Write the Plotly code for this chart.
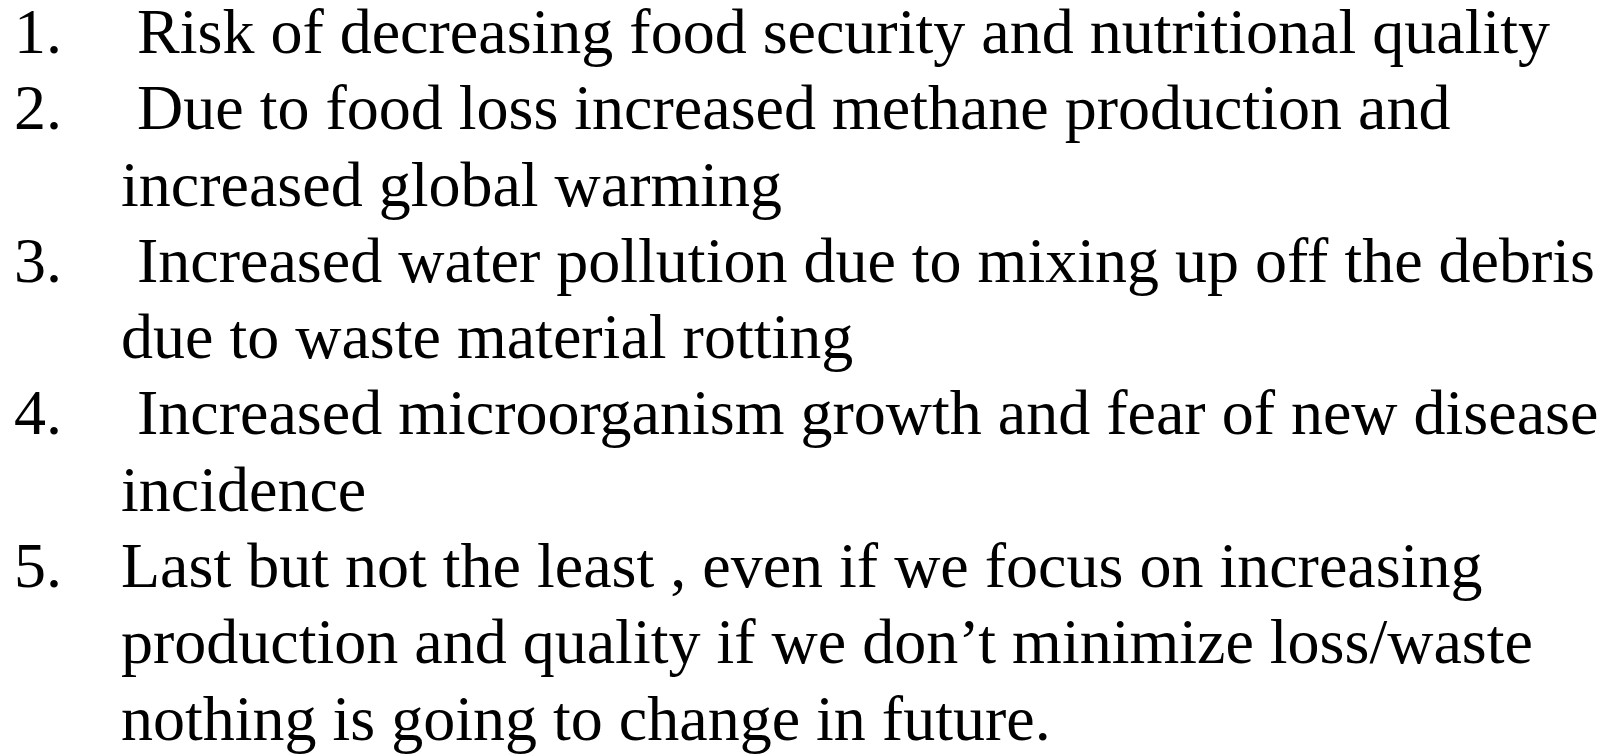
import plotly.graph_objects as go

# ---- content (text lines of the slide) ----
item_numbers = ["1.", "2.", "3.", "4.", "5."]
item_lines = [
    [" Risk of decreasing food security and nutritional quality"],
    [" Due to food loss increased methane production and",
     "increased global warming"],
    [" Increased water pollution due to mixing up off the debris",
     "due to waste material rotting"],
    [" Increased microorganism growth and fear of new disease",
     "incidence"],
    ["Last but not the least , even if we focus on increasing",
     "production and quality if we don\u2019t minimize loss/waste",
     "nothing is going to change in future."],
]

# ---- layout constants ----
W, H = 1613, 756
FONT = "Liberation Serif, Times New Roman, serif"
SIZE = 64
NUM_X = 5
TEXT_X = 112
FIRST_BASELINE = 45
LINE_STEP = 76.3

fig = go.Figure()
annotations = []
row = 0
for num, lines in zip(item_numbers, item_lines):
    for j, line in enumerate(lines):
        baseline = FIRST_BASELINE + row * LINE_STEP
        yc = baseline - 0.3375 * SIZE
        if j == 0:
            annotations.append(dict(
                x=NUM_X, y=yc, xref="x", yref="y", text=num,
                showarrow=False, xanchor="left", yanchor="middle",
                font=dict(family=FONT, size=SIZE, color="black"),
                borderpad=0))
        annotations.append(dict(
            x=TEXT_X, y=yc, xref="x", yref="y",
            text=line.replace(" ", "\u00a0", 1) if line.startswith(" ") else line,
            showarrow=False, xanchor="left", yanchor="middle",
            font=dict(family=FONT, size=SIZE, color="black"),
            borderpad=0))
        row += 1

fig.add_trace(go.Scatter(x=[0, W], y=[0, H], mode="markers",
                         marker=dict(opacity=0), hoverinfo="skip",
                         showlegend=False))
fig.update_layout(
    width=W, height=H,
    margin=dict(l=0, r=0, t=0, b=0),
    paper_bgcolor="white", plot_bgcolor="white",
    xaxis=dict(range=[0, W], visible=False, fixedrange=True),
    yaxis=dict(range=[H, 0], visible=False, fixedrange=True),
    annotations=annotations,
    showlegend=False,
)
fig.write_html("out.html", config={"displayModeBar": False})
